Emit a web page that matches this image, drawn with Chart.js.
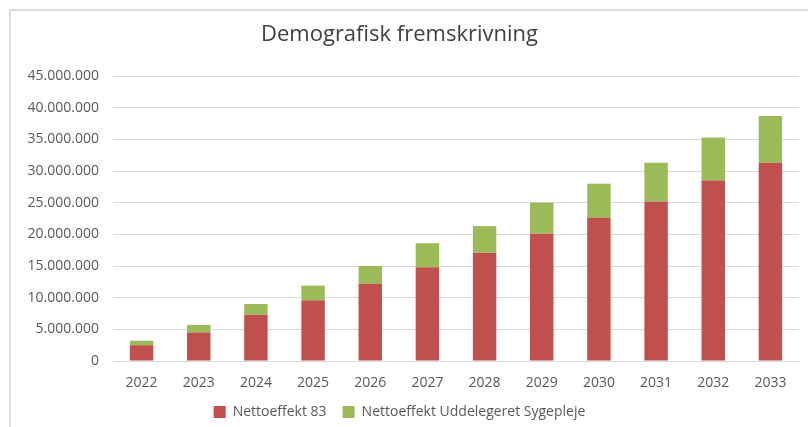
<!DOCTYPE html>
<html>
<head>
<meta charset="utf-8">
<script src="https://cdn.jsdelivr.net/npm/chart.js@4"></script>
<style>
  html, body { margin: 0; padding: 0; background: #fff; }
  #wrap { position: relative; width: 808px; height: 427px; overflow: hidden; }
  #frame { position: absolute; left: 9px; top: 9px; width: 810px; height: 430px; border-left: 2px solid #dcdcdc; border-top: 2px solid #dcdcdc; box-sizing: border-box; pointer-events: none; }
  canvas { position: absolute; left: 0; top: 0; }
</style>
</head>
<body>
<div id="wrap">
  <canvas id="c" width="808" height="427"></canvas>
  <div id="frame"></div>
</div>
<script>
const years = ['2022','2023','2024','2025','2026','2027','2028','2029','2030','2031','2032','2033'];
const netto83 = [2500000, 4500000, 7300000, 9600000, 12200000, 14800000, 17100000, 20100000, 22600000, 25200000, 28500000, 31300000];
const nettoSygepleje = [700000, 1200000, 1700000, 2300000, 2800000, 3800000, 4200000, 4900000, 5400000, 6100000, 6800000, 7400000];
const seriesNames = ['Nettoeffekt 83', 'Nettoeffekt Uddelegeret Sygepleje'];
const titleText = 'Demografisk fremskrivning';

function fmt(v) {
  return String(Math.round(v)).replace(/\B(?=(\d{3})+(?!\d))/g, '.');
}

const FONT = "'Open Sans', 'Liberation Sans', sans-serif";

new Chart(document.getElementById('c'), {
  type: 'bar',
  data: {
    labels: years,
    datasets: [
      { label: seriesNames[0], data: netto83, backgroundColor: '#c0504d', stack: 's' },
      { label: seriesNames[1], data: nettoSygepleje, backgroundColor: '#9bbb59', stack: 's' }
    ]
  },
  options: {
    responsive: false,
    animation: false,
    layout: { padding: { left: 0, right: 9, top: 0, bottom: 0 } },
    datasets: { bar: { categoryPercentage: 1.0, barPercentage: 0.41 } },
    plugins: {
      title: {
        display: true, text: titleText, color: '#404040',
        font: { family: FONT, size: 22, weight: 'normal' },
        padding: { top: 22, bottom: 27.6 }
      },
      legend: {
        position: 'bottom',
        maxHeight: 38,
        labels: {
          color: '#595959', boxWidth: 12, boxHeight: 12,
          font: { family: FONT, size: 14 }, padding: 16
        }
      },
      tooltip: { enabled: false }
    },
    scales: {
      x: {
        stacked: true,
        grid: { display: false, drawTicks: false },
        border: { color: '#d9d9d9' },
        ticks: { color: '#595959', font: { family: FONT, size: 14 }, padding: 14 },
        afterFit: (s) => { s.height = 28; }
      },
      y: {
        stacked: true,
        min: 0, max: 45000000,
        grid: { color: '#d9d9d9', drawTicks: false },
        border: { display: false },
        ticks: {
          stepSize: 5000000, color: '#595959', padding: 14,
          font: { family: FONT, size: 14 },
          callback: (v) => fmt(v)
        },
        afterFit: (s) => { s.width = 113; }
      }
    }
  }
});
</script>
</body>
</html>
